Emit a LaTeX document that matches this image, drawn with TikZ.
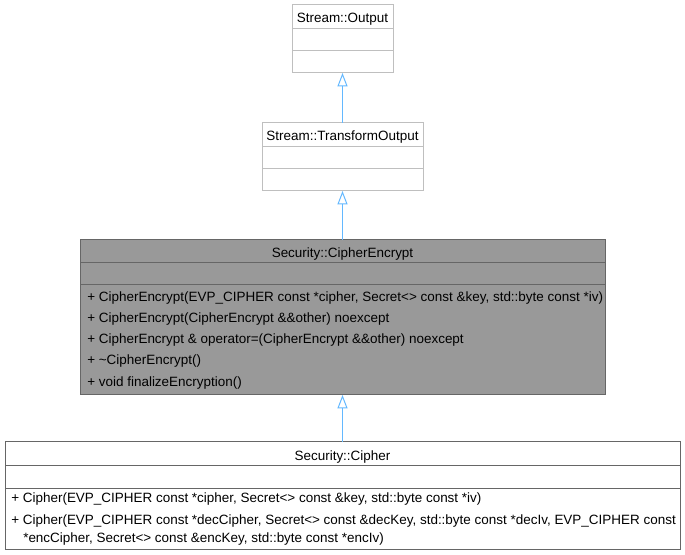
\documentclass[tikz,border=0pt]{standalone}
\usepackage{fontspec}
\setmainfont{Liberation Sans}
\usetikzlibrary{arrows.meta}
\definecolor{UmlEdge}{RGB}{99,184,255}
\definecolor{UmlLight}{RGB}{191,191,191}
\definecolor{UmlDark}{RGB}{102,102,102}
\definecolor{UmlFill}{RGB}{153,153,153}
\tikzset{
  uml/box/.style={
    draw=UmlDark,
    fill=white,
    line width=0.75pt,
    anchor=north west,
    inner sep=0pt,
    outer sep=0pt
  },
  uml/faint/.style={uml/box, draw=UmlLight},
  uml/focus/.style={uml/box, fill=UmlFill},
  uml/rule/.style={draw=UmlDark, line width=0.75pt},
  uml/faintrule/.style={draw=UmlLight, line width=0.75pt},
  uml/title/.style={font=\fontsize{10.1}{11}\selectfont, inner sep=0pt},
  uml/member/.style={font=\fontsize{10.1}{11}\selectfont, anchor=west, inner sep=0pt},
  uml/inherit/.style={-{Triangle[open,length=10pt,width=7.5pt,fill=white]}, line width=0.75pt, draw=UmlEdge}
}
\begin{document}
\begin{tikzpicture}[x=0.75pt,y=-0.75pt]
  \useasboundingbox (0,0) rectangle (685,555);
  % base classes
  \node[uml/faint, minimum width=75.75pt, minimum height=51pt] (output) at (292,5) {};
  \node[uml/title] (outputname) at (342.5,19) {Stream::Output};
  \draw[uml/faintrule] (output.west |- 0,29) -- (output.east |- 0,29);
  \draw[uml/faintrule] (output.west |- 0,51) -- (output.east |- 0,51);

  \node[uml/faint, minimum width=120.75pt, minimum height=51pt] (transform) at (262,123) {};
  \node[uml/title] (transformname) at (342.5,137) {Stream::TransformOutput};
  \draw[uml/faintrule] (transform.west |- 0,147) -- (transform.east |- 0,147);
  \draw[uml/faintrule] (transform.west |- 0,169) -- (transform.east |- 0,169);

  % the class itself
  \node[uml/focus, minimum width=393.75pt, minimum height=116.25pt] (encrypt) at (80,240) {};
  \node[uml/title] (encryptname) at (342.5,254) {Security::CipherEncrypt};
  \draw[uml/rule] (encrypt.west |- 0,263) -- (encrypt.east |- 0,263);
  \draw[uml/rule] (encrypt.west |- 0,285) -- (encrypt.east |- 0,285);
  \node[uml/member] (enc1) at (87,298) {+ CipherEncrypt(EVP\_CIPHER const *cipher, Secret<> const \&key, std::byte const *iv)};
  \node[uml/member] (enc2) at (87,319) {+ CipherEncrypt(CipherEncrypt \&\&other) noexcept};
  \node[uml/member] (enc3) at (87,340) {+ CipherEncrypt \& operator=(CipherEncrypt \&\&other) noexcept};
  \node[uml/member] (enc4) at (87,361) {+ \textasciitilde CipherEncrypt()};
  \node[uml/member] (enc5) at (87,383) {+ void finalizeEncryption()};

  % derived class
  \node[uml/box, minimum width=506.25pt, minimum height=80.25pt] (cipher) at (5,442) {};
  \node[uml/title] (ciphername) at (342.5,457) {Security::Cipher};
  \draw[uml/rule] (cipher.west |- 0,466) -- (cipher.east |- 0,466);
  \draw[uml/rule] (cipher.west |- 0,488) -- (cipher.east |- 0,488);
  \node[uml/member] (ciph1) at (11,499) {+ Cipher(EVP\_CIPHER const *cipher, Secret<> const \&key, std::byte const *iv)};
  \node[uml/member] (ciph2) at (11,521) {+ Cipher(EVP\_CIPHER const *decCipher, Secret<> const \&decKey, std::byte const *decIv, EVP\_CIPHER const};
  \node[uml/member] (ciph2b) at (23,539) {*encCipher, Secret<> const \&encKey, std::byte const *encIv)};

  \draw[uml/inherit] (transform.north) -- (output.south);
  \draw[uml/inherit] (encrypt.north) -- (transform.south);
  \draw[uml/inherit] (cipher.north) -- (encrypt.south);
\end{tikzpicture}
\end{document}
